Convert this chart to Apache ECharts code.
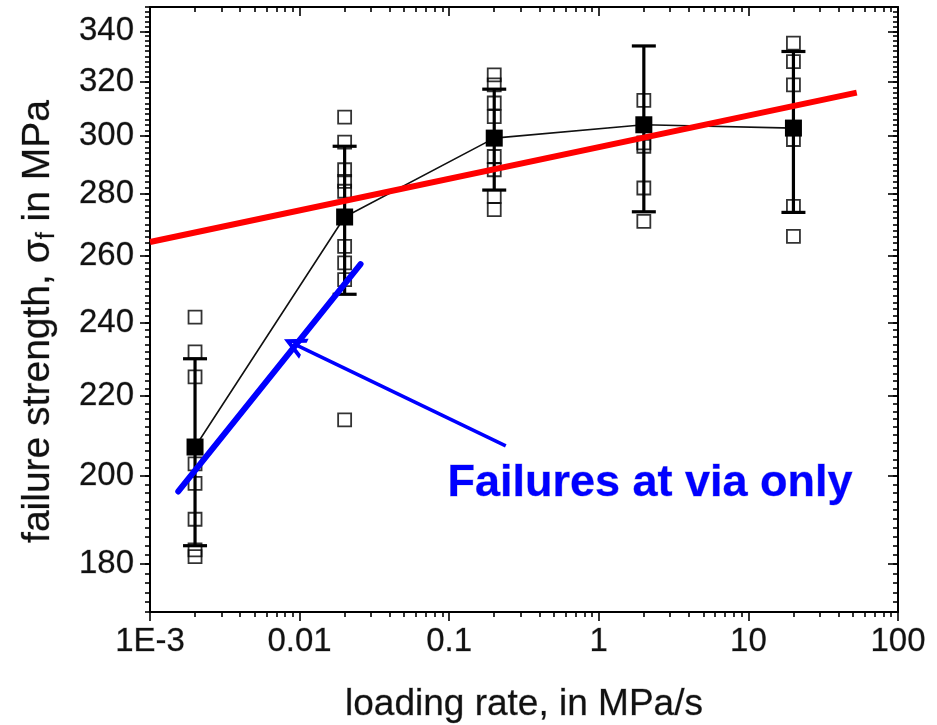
<!DOCTYPE html>
<html>
<head>
<meta charset="utf-8">
<script src="https://cdn.jsdelivr.net/npm/echarts@6/dist/echarts.min.js"></script>
<style>html,body{margin:0;padding:0;background:#fff}#c{width:937px;height:725px}</style>
</head>
<body>
<div id="c"></div>
<script>
// ---- data ----
const loadingRates = [0.002, 0.02, 0.2, 2, 20];
const meanStrength = [207.0, 272.4, 299.3, 304.1, 302.9];
const errStrength  = [23, 24, 18, 30, 29];
const raw_0p002 = [241.7, 231.9, 225.1, 202.9, 198.2, 189.9, 183.1, 181.6];
const raw_0p02  = [306.9, 297.9, 288.2, 284.2, 280.9, 263.0, 257.9, 252.8, 213.8];
const raw_0p2   = [322.8, 318.9, 312.1, 307.1, 292.8, 288.2, 279.2, 274.8];
const raw_2     = [313.1, 297.6, 296.4, 282.0, 271.0];
const raw_20    = [335.2, 327.9, 318.9, 298.8, 275.9, 266.2];
const redFitX  = [0.001, 53];
const redFitY  = [264.4, 316.0];
const blueFitX = [0.001545, 0.02556];
const blueFitY = [196.3, 257.5];
const arrowX = [0.2388, 0.00916];
const arrowY = [207.3, 234.1];
const annotationText = 'Failures at via only';
const xMajorTicks = [0.001, 0.01, 0.1, 1, 10, 100];
const xMinorTicks = [0.002,0.003,0.004,0.005,0.006,0.007,0.008,0.009,
                     0.02,0.03,0.04,0.05,0.06,0.07,0.08,0.09,
                     0.2,0.3,0.4,0.5,0.6,0.7,0.8,0.9,
                     2,3,4,5,6,7,8,9,
                     20,30,40,50,60,70,80,90];
const yMajorTicks = [180, 200, 220, 240, 260, 280, 300, 320, 340];
const yMinorTicks = [];
for (let v = 170; v <= 350; v += 2) yMinorTicks.push(v);
const xRange = [0.001, 100];
const yRange = [170, 350];

// ---- build ----
const rawGroups = [raw_0p002, raw_0p02, raw_0p2, raw_2, raw_20];
const openPts = [];
rawGroups.forEach((g, i) => g.forEach(v => openPts.push([loadingRates[i], v])));
const meanPts = loadingRates.map((x, i) => [x, meanStrength[i]]);
const errData = loadingRates.map((x, i) => [x, meanStrength[i], errStrength[i]]);

const FONT = 'Liberation Sans, Arial, sans-serif';
const BLACK = '#000';
const TXT = '#111';
const HALO = {textBorderColor: 'rgba(0,0,0,0.3)', textBorderWidth: 0.8};

function xLabel(v) {
  if (v < 0.005) return '1E-3';
  if (v >= 1) return String(Math.round(v));
  return String(+v.toPrecision(1));
}

function xAx(grid, pos, ticks, len, inside, withLabels) {
  const a = {
    type: 'log', logBase: 10, min: xRange[0], max: xRange[1], gridIndex: grid, position: pos,
    axisLine: {show: grid === 0, lineStyle: {color: BLACK, width: 2}},
    axisTick: {show: true, inside: inside, length: len, customValues: ticks, lineStyle: {color: BLACK, width: 1.6}},
    axisLabel: Object.assign({show: withLabels, customValues: ticks, formatter: xLabel, fontSize: 33, color: TXT, fontFamily: FONT, margin: 13}, HALO),
    splitLine: {show: false}, minorTick: {show: false}, minorSplitLine: {show: false}
  };
  if (withLabels) {
    a.name = 'loading rate, in MPa/s';
    a.nameLocation = 'middle';
    a.nameGap = 74;
    a.nameTextStyle = Object.assign({fontSize: 37, color: TXT, fontFamily: FONT}, HALO);
  }
  return a;
}
function yAx(grid, pos, ticks, len, inside, withLabels) {
  const a = {
    type: 'log', logBase: 10, min: yRange[0], max: yRange[1], gridIndex: grid, position: pos,
    axisLine: {show: grid === 0, lineStyle: {color: BLACK, width: 2}},
    axisTick: {show: true, inside: inside, length: len, customValues: ticks, lineStyle: {color: BLACK, width: 1.6}},
    axisLabel: Object.assign({show: withLabels, customValues: ticks, formatter: v => String(Math.round(v)), fontSize: 33, color: TXT, fontFamily: FONT, margin: 16}, HALO),
    splitLine: {show: false}, minorTick: {show: false}, minorSplitLine: {show: false}
  };
  if (withLabels) {
    a.name = 'failure strength, σ{s|f} in MPa';
    a.nameLocation = 'middle';
    a.nameGap = 90;
    a.nameTextStyle = Object.assign({fontSize: 39, color: TXT, fontFamily: FONT, padding: [0, 24, 0, 0],
      rich: {s: Object.assign({fontSize: 25, fontFamily: FONT, color: TXT, padding: [18, 0, 0, 0], verticalAlign: 'bottom'}, HALO)}}, HALO);
  }
  return a;
}

const gridRect = {left: 150, right: 39, top: 7, bottom: 113, containLabel: false, outerBoundsMode: 'none'};

const chart = echarts.init(document.getElementById('c'), null, {renderer: 'canvas'});
chart.setOption({
  animation: false,
  backgroundColor: '#fff',
  grid: [Object.assign({}, gridRect), Object.assign({}, gridRect)],
  xAxis: [
    xAx(0, 'bottom', xMajorTicks, 9, false, true),
    xAx(0, 'top', xMajorTicks, 9, true, false),
    xAx(1, 'bottom', xMinorTicks, 5, false, false),
    xAx(1, 'top', xMinorTicks, 5, true, false)
  ],
  yAxis: [
    yAx(0, 'left', yMajorTicks, 10, false, true),
    yAx(0, 'right', yMajorTicks, 10, true, false),
    yAx(1, 'left', yMinorTicks, 5, false, false),
    yAx(1, 'right', yMinorTicks, 5, true, false)
  ],
  graphic: [{
    type: 'text', left: 447, top: 461, z: 100,
    style: Object.assign({text: annotationText, font: 'bold 45px ' + FONT, fill: '#0000ff'},
      {stroke: 'rgba(0,0,160,0.35)', lineWidth: 0.8})
  }],
  series: [
    {
      type: 'custom', xAxisIndex: 0, yAxisIndex: 0, z: 2,
      data: errData, encode: {x: 0, y: 1},
      renderItem: function (params, api) {
        const x = api.value(0), m = api.value(1), e = api.value(2);
        const t = api.coord([x, m + e]), b = api.coord([x, m - e]);
        const c = 12, st = {stroke: BLACK, lineWidth: 3.2};
        return {type: 'group', children: [
          {type: 'line', shape: {x1: t[0], y1: t[1], x2: b[0], y2: b[1]}, style: st},
          {type: 'line', shape: {x1: t[0] - c, y1: t[1], x2: t[0] + c, y2: t[1]}, style: st},
          {type: 'line', shape: {x1: b[0] - c, y1: b[1], x2: b[0] + c, y2: b[1]}, style: st}
        ]};
      }
    },
    {
      type: 'scatter', xAxisIndex: 0, yAxisIndex: 0, z: 3,
      data: openPts, symbol: 'rect', symbolSize: 13,
      itemStyle: {color: 'rgba(255,255,255,0)', borderColor: BLACK, borderWidth: 1.8}
    },
    {
      type: 'line', xAxisIndex: 0, yAxisIndex: 0, z: 4,
      data: meanPts, symbol: 'rect', symbolSize: 17,
      itemStyle: {color: BLACK}, lineStyle: {color: '#111', width: 1.6}
    },
    {
      type: 'line', xAxisIndex: 0, yAxisIndex: 0, z: 5, symbol: 'none',
      data: redFitX.map((x, i) => [x, redFitY[i]]),
      lineStyle: {color: '#ff0000', width: 6}
    },
    {
      type: 'line', xAxisIndex: 0, yAxisIndex: 0, z: 5, symbol: 'none',
      data: blueFitX.map((x, i) => [x, blueFitY[i]]),
      lineStyle: {color: '#0000ff', width: 6, cap: 'round'}
    },
    {
      type: 'lines', coordinateSystem: 'cartesian2d', xAxisIndex: 0, yAxisIndex: 0, z: 6,
      data: [{coords: arrowX.map((x, i) => [x, arrowY[i]])}],
      symbol: ['none', 'path://M10,0 L20,20 L16,20 L10,8 L4,20 L0,20 Z'],
      symbolSize: [22, 22],
      lineStyle: {color: '#0000ff', width: 3.5, opacity: 1}
    }
  ]
});
</script>
</body>
</html>
